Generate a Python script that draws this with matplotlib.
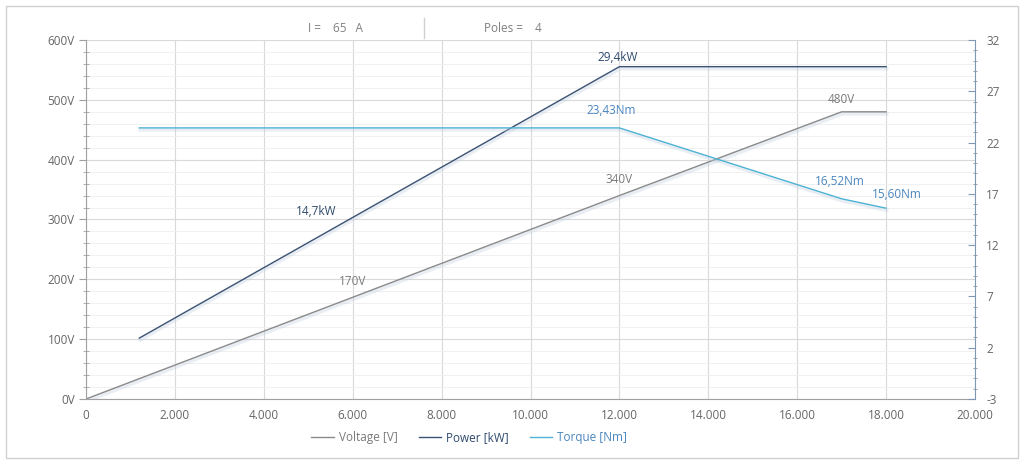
import matplotlib
matplotlib.use("Agg")
import matplotlib.pyplot as plt
from matplotlib.ticker import MultipleLocator, FuncFormatter, FixedLocator
from matplotlib.patches import Rectangle
from matplotlib.lines import Line2D
import matplotlib.patheffects as pe

plt.rcParams['font.family'] = ['Open Sans', 'DejaVu Sans']

# Data
speed_v = [0, 6000, 12000, 17000, 18000]
voltage = [0, 170, 340, 480, 480]
speed_p = [1200, 6000, 12000, 18000]
power = [2.94, 14.7, 29.4, 29.4]
speed_t = [1200, 12000, 17000, 18000]
torque = [23.43, 23.43, 16.52, 15.60]

right_ticks = [-3, 2, 7, 12, 17, 22, 27, 32]

volt_labels = [(6000, 170, "170V", (0, 16)), (12000, 340, "340V", (0, 16)), (17000, 480, "480V", (0, 12))]
power_labels = [(6000, 14.7, "14,7kW", (-37, 6)), (12000, 29.4, "29,4kW", (-2, 9))]
torque_labels = [(12000, 23.43, "23,43Nm", (-8, 17)), (17000, 16.52, "16,52Nm", (-2, 17)), (18000, 15.60, "15,60Nm", (11, 14))]

c_volt = '#8a8a8a'
c_pow = '#3b5273'
c_tor = '#4db3d4'
c_vtxt = '#7a7a7a'
c_ptxt = '#2e4a6e'
c_ttxt = '#4a86c0'
c_tick = '#666666'
c_grid = '#d9d9d9'
c_minor = '#eeeeee'

fig = plt.figure(figsize=(10.24, 4.63), dpi=100)
fig.patch.set_facecolor('white')
fig.add_artist(Rectangle((6/1024, 1-458/463), (1018-6)/1024, (458-6)/463, transform=fig.transFigure,
                         fill=False, edgecolor='#d0d0d0', lw=1))

ax = fig.add_axes([86/1024, 1-399/463, (975-86)/1024, (399-40)/463])
ax2 = ax.twinx()

ax.set_xlim(0, 20000)
ax.set_ylim(0, 600)
ax2.set_ylim(-3, 32)

ax.xaxis.set_major_locator(MultipleLocator(2000))
ax.yaxis.set_major_locator(MultipleLocator(100))
ax.yaxis.set_minor_locator(MultipleLocator(20))
ax2.yaxis.set_major_locator(FixedLocator(right_ticks))
ax2.yaxis.set_minor_locator(FixedLocator(list(range(-3, 33))))

ax.xaxis.set_major_formatter(FuncFormatter(lambda v, p: f"{int(v):,}".replace(",", ".")))
ax.yaxis.set_major_formatter(FuncFormatter(lambda v, p: f"{int(v)}V"))
ax2.yaxis.set_major_formatter(FuncFormatter(lambda v, p: f"{int(round(v))}"))

ax.grid(True, which='major', axis='both', color=c_grid, lw=0.8)
ax.grid(True, which='minor', axis='y', color=c_minor, lw=0.6)
ax.set_axisbelow(True)

for s in ['top']:
    ax.spines[s].set_visible(False)
    ax2.spines[s].set_visible(False)
ax.spines['right'].set_visible(False)
ax2.spines['left'].set_visible(False)
ax2.spines['bottom'].set_visible(False)
ax.spines['left'].set_color('#a0a0a0')
ax.spines['bottom'].set_color('#a0a0a0')
ax2.spines['right'].set_color('#7d98b0')

ax.tick_params(axis='y', which='major', direction='out', length=5, color='#a0a0a0', labelsize=8.5, labelcolor=c_tick, pad=3)
ax.tick_params(axis='y', which='minor', direction='inout', length=4, color='#a0a0a0')
ax.tick_params(axis='x', which='major', length=0, labelsize=8.5, labelcolor=c_tick, pad=7)
ax2.tick_params(axis='y', which='major', direction='in', length=5, color='#7d98b0', labelsize=8.5, labelcolor=c_tick, pad=8)
ax2.tick_params(axis='y', which='minor', direction='inout', length=3, color='#7d98b0')

shadow = [pe.SimpleLineShadow(offset=(0.5, -1.5), shadow_color='#c0d0e0', alpha=0.35, linewidth=2.5), pe.Normal()]

ax.plot(speed_v, voltage, color=c_volt, lw=1.0, label='Voltage [V]', path_effects=shadow)
ax2.plot(speed_p, power, color=c_pow, lw=1.0, label='Power [kW]', path_effects=shadow)
ax2.plot(speed_t, torque, color=c_tor, lw=1.0, label='Torque [Nm]', path_effects=shadow)

for x, y, t, off in volt_labels:
    ax.annotate(t, (x, y), xytext=off, textcoords='offset pixels', ha='center', va='center', fontsize=8.5, color=c_vtxt)
for x, y, t, off in power_labels:
    ax2.annotate(t, (x, y), xytext=off, textcoords='offset pixels', ha='center', va='center', fontsize=8.5, color=c_ptxt)
for x, y, t, off in torque_labels:
    ax2.annotate(t, (x, y), xytext=off, textcoords='offset pixels', ha='center', va='center', fontsize=8.5, color=c_ttxt)

# Header
fig.text(335/1024, 1-28/463, "I =    65   A", ha='center', va='center', fontsize=8.5, color='#808080')
fig.text(513/1024, 1-28/463, "Poles =    4", ha='center', va='center', fontsize=8.5, color='#808080')
fig.add_artist(Line2D([424/1024, 424/1024], [1-18/463, 1-38/463], transform=fig.transFigure, color='#d0d0d0', lw=1))

# Legend
handles = [Line2D([], [], color=c_volt, lw=1), Line2D([], [], color=c_pow, lw=1), Line2D([], [], color=c_tor, lw=1)]
leg = fig.legend(handles, ['Voltage [V]', 'Power [kW]', 'Torque [Nm]'], loc='center', bbox_to_anchor=(469/1024, 1-438/463),
                 ncol=3, frameon=False, fontsize=8.5, handlelength=1.9, handletextpad=0.4, columnspacing=1.8)
for txt, c in zip(leg.get_texts(), [c_vtxt, c_ptxt, c_ttxt]):
    txt.set_color(c)

fig.savefig('out.png', dpi=100)
